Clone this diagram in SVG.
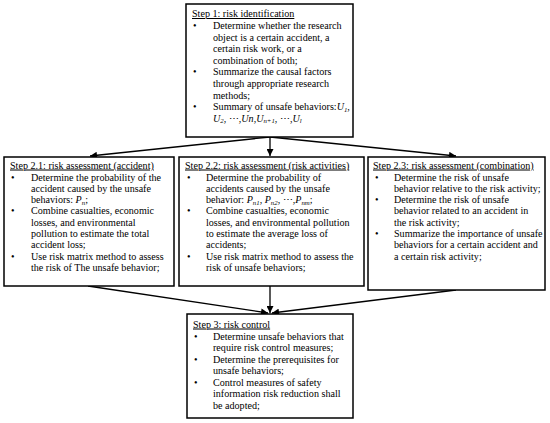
<svg xmlns="http://www.w3.org/2000/svg" width="550" height="423" viewBox="0 0 550 423">
<style>
text{font-family:"Liberation Serif","Times New Roman",serif;font-size:10.1px;fill:#000}
.t{text-decoration:underline}
.box{fill:#fff;stroke:#000;stroke-width:1.5}
.c{stroke:#000;stroke-width:1.3;fill:none;marker-end:url(#ah)}
.i{font-style:italic}
.s{font-size:6.8px;font-style:italic}
</style>
<defs>
<marker id="ah" viewBox="0 0 10 10" refX="10" refY="5" markerWidth="8" markerHeight="7" markerUnits="userSpaceOnUse" orient="auto">
<path d="M0,0 L10,5 L0,10 Z" fill="#000"/>
</marker>
</defs>
<rect width="550" height="423" fill="#fff"/>
<g id="connectors">
<line class="c" x1="270" y1="137" x2="270" y2="156"/>
<line class="c" x1="270" y1="137" x2="90" y2="156"/>
<line class="c" x1="270" y1="137" x2="456" y2="156"/>
<line class="c" x1="270" y1="286" x2="270" y2="313"/>
<line class="c" x1="88" y1="286" x2="268" y2="313"/>
<line class="c" x1="456" y1="290" x2="272" y2="313"/>
</g>
<g id="step1">
<rect class="box" x="186" y="4" width="167" height="133"/>
<text x="192" y="17" class="t">Step 1: risk identification</text>
<text x="193" y="29">•</text><text x="213" y="29">Determine whether the research</text>
<text x="213" y="40.6">object is a certain accident, a</text>
<text x="213" y="52.2">certain risk work, or a</text>
<text x="213" y="63.8">combination of both;</text>
<text x="193" y="75.4">•</text><text x="213" y="75.4">Summarize the causal factors</text>
<text x="213" y="87">through appropriate research</text>
<text x="213" y="98.6">methods;</text>
<text x="193" y="110.2">•</text><text x="213" y="110.2">Summary of unsafe behaviors:<tspan class="i">U</tspan><tspan class="s" dy="1.5">1</tspan><tspan dy="-1.5">,</tspan></text>
<text x="213" y="121.8"><tspan class="i">U</tspan><tspan class="s" dy="1.5">2</tspan><tspan dy="-1.5">, ⋯,</tspan><tspan class="i">Un</tspan>,<tspan class="i">U</tspan><tspan class="s" dy="1.5">n+1</tspan><tspan dy="-1.5">, ⋯,</tspan><tspan class="i">U</tspan><tspan class="s" dy="1.5">l</tspan></text>
</g>
<g id="step21">
<rect class="box" x="4" y="157" width="170" height="129"/>
<text x="10" y="168.5" class="t">Step 2.1: risk assessment (accident)</text>
<text x="11" y="180.5">•</text><text x="31" y="180.5">Determine the probability of the</text>
<text x="31" y="191.8">accident caused by the unsafe</text>
<text x="31" y="203.1">behaviors: <tspan class="i">P</tspan><tspan class="s" dy="1.5">n</tspan><tspan dy="-1.5">;</tspan></text>
<text x="11" y="214.4">•</text><text x="31" y="214.4">Combine casualties, economic</text>
<text x="31" y="225.7">losses, and environmental</text>
<text x="31" y="237">pollution to estimate the total</text>
<text x="31" y="248.3">accident loss;</text>
<text x="11" y="259.6">•</text><text x="31" y="259.6">Use risk matrix method to assess</text>
<text x="31" y="270.9">the risk of The unsafe behavior;</text>
</g>
<g id="step22">
<rect class="box" x="179" y="157" width="185" height="129"/>
<text x="185" y="168.5" class="t">Step 2.2: risk assessment (risk activities)</text>
<text x="187" y="180.5">•</text><text x="206" y="180.5">Determine the probability of</text>
<text x="206" y="191.8">accidents caused by the unsafe</text>
<text x="206" y="203.1">behavior: <tspan class="i">P</tspan><tspan class="s" dy="1.5">n1</tspan><tspan dy="-1.5">, </tspan><tspan class="i">P</tspan><tspan class="s" dy="1.5">n2</tspan><tspan dy="-1.5">, ⋯,</tspan><tspan class="i">P</tspan><tspan class="s" dy="1.5">nm</tspan><tspan dy="-1.5">;</tspan></text>
<text x="187" y="214.4">•</text><text x="206" y="214.4">Combine casualties, economic</text>
<text x="206" y="225.7">losses, and environmental pollution</text>
<text x="206" y="237">to estimate the average loss of</text>
<text x="206" y="248.3">accidents;</text>
<text x="187" y="259.6">•</text><text x="206" y="259.6">Use risk matrix method to assess the</text>
<text x="206" y="270.9">risk of unsafe behaviors;</text>
</g>
<g id="step23">
<rect class="box" x="368" y="157" width="177" height="133"/>
<text x="373" y="168.5" class="t">Step 2.3: risk assessment (combination)</text>
<text x="375" y="180.5">•</text><text x="394" y="180.5">Determine the risk of unsafe</text>
<text x="394" y="191.8">behavior relative to the risk activity;</text>
<text x="375" y="203.1">•</text><text x="394" y="203.1">Determine the risk of unsafe</text>
<text x="394" y="214.4">behavior related to an accident in</text>
<text x="394" y="225.7">the risk activity;</text>
<text x="375" y="237">•</text><text x="394" y="237">Summarize the importance of unsafe</text>
<text x="394" y="248.3">behaviors for a certain accident and</text>
<text x="394" y="259.6">a certain risk activity;</text>
</g>
<g id="step3">
<rect class="box" x="187" y="314" width="166" height="104"/>
<text x="193" y="327.5" class="t">Step 3: risk control</text>
<text x="194" y="339.5">•</text><text x="213" y="339.5">Determine unsafe behaviors that</text>
<text x="213" y="351">require risk control measures;</text>
<text x="194" y="362.5">•</text><text x="213" y="362.5">Determine the prerequisites for</text>
<text x="213" y="374">unsafe behaviors;</text>
<text x="194" y="385.5">•</text><text x="213" y="385.5">Control measures of safety</text>
<text x="213" y="397">information risk reduction shall</text>
<text x="213" y="408.5">be adopted;</text>
</g>
</svg>
